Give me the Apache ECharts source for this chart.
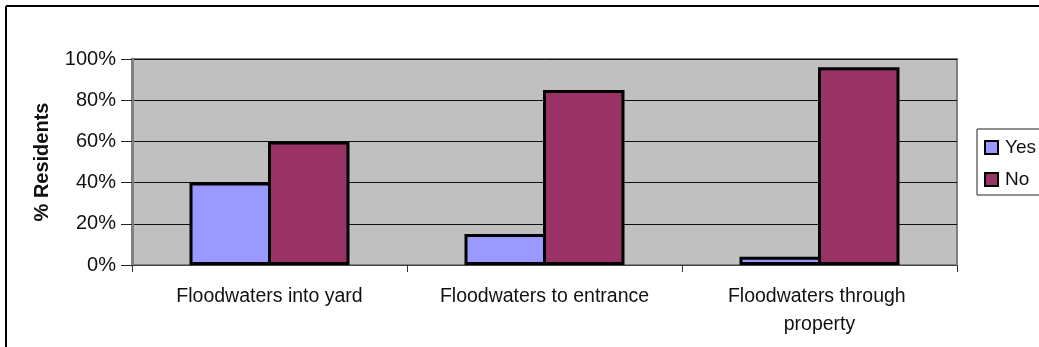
<!DOCTYPE html>
<html>
<head>
<meta charset="utf-8">
<script src="https://cdn.jsdelivr.net/npm/echarts@6/dist/echarts.min.js"></script>
<style>
  html, body { margin: 0; padding: 0; background: #fff; }
  #chart { width: 1039px; height: 347px; }
</style>
</head>
<body>
<div id="chart"></div>
<script>
// Flood exposure survey: share of residents answering Yes / No
const categories = ['Floodwaters into yard', 'Floodwaters to entrance', 'Floodwaters through property'];
const yesValues = [40, 15, 4];
const noValues = [60, 85, 96];
const seriesNames = ['Yes', 'No'];
const axisTitle = '% Residents';

const FONT = '"Liberation Sans", Arial, sans-serif';
const chart = echarts.init(document.getElementById('chart'), null, { renderer: 'canvas' });

chart.setOption({
  animation: false,
  textStyle: { fontFamily: FONT, color: '#111' },
  graphic: [
    // outer frame (left and top edges)
    { type: 'line', shape: { x1: 6, y1: 6, x2: 6, y2: 347 }, style: { stroke: '#000', lineWidth: 2 } },
    { type: 'line', shape: { x1: 6, y1: 6, x2: 1039, y2: 6 }, style: { stroke: '#000', lineWidth: 2 } }
  ],
  grid: {
    left: 132, top: 59, width: 825, height: 206,
    show: true, backgroundColor: '#C0C0C0',
    borderColor: '#808080', borderWidth: 2
  },
  legend: {
    orient: 'vertical',
    left: 977, top: 129,
    padding: [9, 60, 6, 7],
    itemGap: 13,
    itemWidth: 13, itemHeight: 13,
    icon: 'rect',
    backgroundColor: '#fff',
    borderColor: '#222', borderWidth: 1,
    itemStyle: { borderColor: '#000', borderWidth: 2 },
    textStyle: { fontFamily: FONT, fontSize: 19, color: '#111', padding: [0, 0, 0, 2] },
    data: seriesNames
  },
  xAxis: {
    type: 'category',
    data: categories,
    axisLine: { lineStyle: { color: '#444', width: 1 } },
    axisTick: { show: true, length: 7, lineStyle: { color: '#333' } },
    axisLabel: {
      fontFamily: FONT, fontSize: 19.5, color: '#111',
      margin: 18, lineHeight: 28,
      width: 245, overflow: 'break', interval: 0
    },
    splitLine: { show: false }
  },
  yAxis: {
    type: 'value',
    min: 0, max: 100, interval: 20,
    name: axisTitle,
    nameLocation: 'middle',
    nameRotate: 90,
    nameGap: 80,
    nameTextStyle: { fontFamily: FONT, fontSize: 20, fontWeight: 'bold', color: '#111' },
    axisLine: { show: true, lineStyle: { color: '#808080', width: 3 } },
    axisTick: { show: true, length: 11, lineStyle: { color: '#222' } },
    axisLabel: { fontFamily: FONT, fontSize: 20, color: '#111', margin: 16, formatter: '{value}%' },
    splitLine: { lineStyle: { color: '#111', width: 1 } }
  },
  series: [
    {
      name: seriesNames[0], type: 'bar', data: yesValues,
      barWidth: 81.5, barGap: '-3.7%',
      itemStyle: { color: '#9999FF', borderColor: '#000', borderWidth: 3 }
    },
    {
      name: seriesNames[1], type: 'bar', data: noValues,
      barWidth: 81.5, barGap: '-3.7%',
      itemStyle: { color: '#993366', borderColor: '#000', borderWidth: 3 }
    }
  ]
});
</script>
</body>
</html>
